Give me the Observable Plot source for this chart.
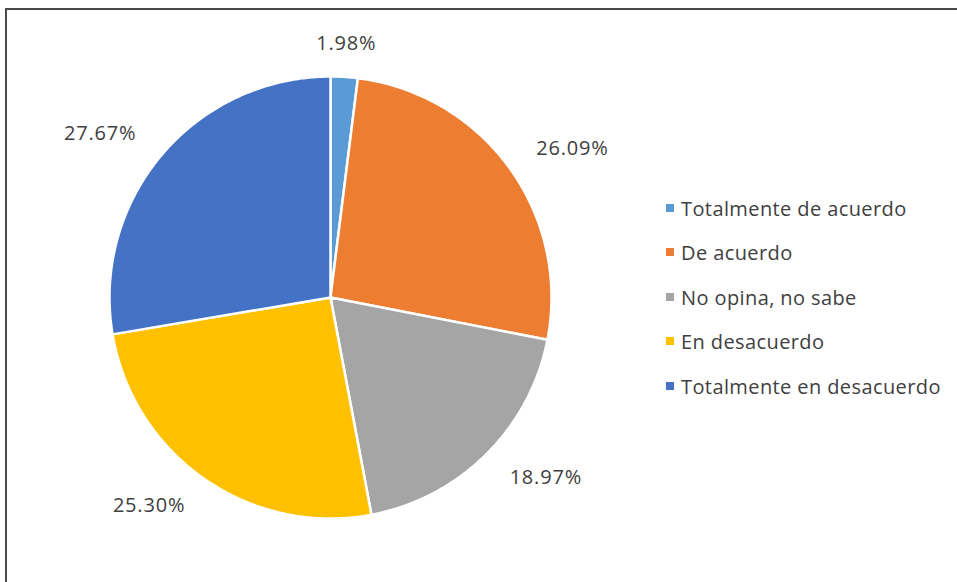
<!DOCTYPE html>
<html>
<head>
<meta charset="utf-8">
<script src="https://cdn.jsdelivr.net/npm/d3@7"></script>
<script src="https://cdn.jsdelivr.net/npm/@observablehq/plot@0.6"></script>
<style>
  html, body { margin: 0; padding: 0; background: #fff; }
  #wrap { position: relative; width: 957px; height: 582px; overflow: hidden; font-family: "Open Sans", Lato, sans-serif; }
  #frame { position: absolute; left: 5px; top: 8px; width: 2000px; height: 2000px; border-top: 2px solid #4a4a4a; border-left: 2px solid #4a4a4a; box-sizing: border-box; }
  #chart { position: absolute; left: 0; top: 0; }
  #legend { position: absolute; left: 666px; top: 0; }
  .item { position: absolute; left: 0; white-space: nowrap; display: flex; align-items: center; height: 28px; margin-top: -14px; font-size: 20px; letter-spacing: 0.4px; color: #404040; }
  .sw { width: 8px; height: 8px; margin-right: 7px; display: inline-block; }
  #chart text { letter-spacing: 0.8px; }
</style>
</head>
<body>
<div id="wrap">
  <div id="frame"></div>
  <div id="chart"></div>
  <div id="legend"></div>
</div>
<script>
// Data
const categories = ["Totalmente de acuerdo", "De acuerdo", "No opina, no sabe", "En desacuerdo", "Totalmente en desacuerdo"];
const values = [1.98, 26.09, 18.97, 25.30, 27.67];
const labels = ["1.98%", "26.09%", "18.97%", "25.30%", "27.67%"];
const colors = ["#5B9BD5", "#ED7D31", "#A5A5A5", "#FFC000", "#4472C4"];

// Layout
const W = 957, H = 582;
const cx = 330, cy = 297, R = 221;
const labelR = 1.15;

const pie = d3.pie().sort(null).value(d => d.value).startAngle(0).endAngle(2 * Math.PI);
const arcs = pie(categories.map((c, i) => ({category: c, value: values[i], label: labels[i]})));

// polygon points for each slice (unit radius, y up)
const pts = [];
arcs.forEach(a => {
  const c = a.data.category;
  pts.push({category: c, x: 0, y: 0});
  const n = Math.max(2, Math.ceil((a.endAngle - a.startAngle) / (Math.PI / 360)));
  for (let k = 0; k <= n; k++) {
    const t = a.startAngle + (a.endAngle - a.startAngle) * k / n;
    pts.push({category: c, x: Math.sin(t), y: Math.cos(t)});
  }
  pts.push({category: c, x: 0, y: 0});
});

const lab = arcs.map(a => {
  const m = (a.startAngle + a.endAngle) / 2;
  const s = Math.sin(m);
  return {label: a.data.label, x: labelR * s, y: labelR * Math.cos(m),
          side: Math.abs(s) < 0.3 ? "middle" : (s > 0 ? "start" : "end")};
});

const plot = Plot.plot({
  width: W, height: H,
  margin: 0,
  x: {domain: [-cx / R, (W - cx) / R], range: [0, W], axis: null},
  y: {domain: [-(H - cy) / R, cy / R], range: [H, 0], axis: null},
  color: {domain: categories, range: colors},
  style: {background: "transparent", fontFamily: "'Open Sans', Lato, sans-serif"},
  marks: [
    Plot.line(pts, {x: "x", y: "y", z: "category", fill: "category", stroke: "white", strokeWidth: 2.5, strokeLinejoin: "miter", curve: "linear"}),
    ...["start", "middle", "end"].map(anchor =>
      Plot.text(lab.filter(d => d.side === anchor), {x: "x", y: "y", text: "label", textAnchor: anchor, lineAnchor: "middle", fontSize: 20, fill: "#404040"})
    )
  ]
});
document.getElementById("chart").appendChild(plot);

// Legend
const rowY = [208, 252, 297, 341, 386];
const legend = document.getElementById("legend");
categories.forEach((c, i) => {
  const it = document.createElement("div");
  it.className = "item";
  it.style.top = rowY[i] + "px";
  const sw = document.createElement("span");
  sw.className = "sw";
  sw.style.background = colors[i];
  it.appendChild(sw);
  it.appendChild(document.createTextNode(c));
  legend.appendChild(it);
});
</script>
</body>
</html>
